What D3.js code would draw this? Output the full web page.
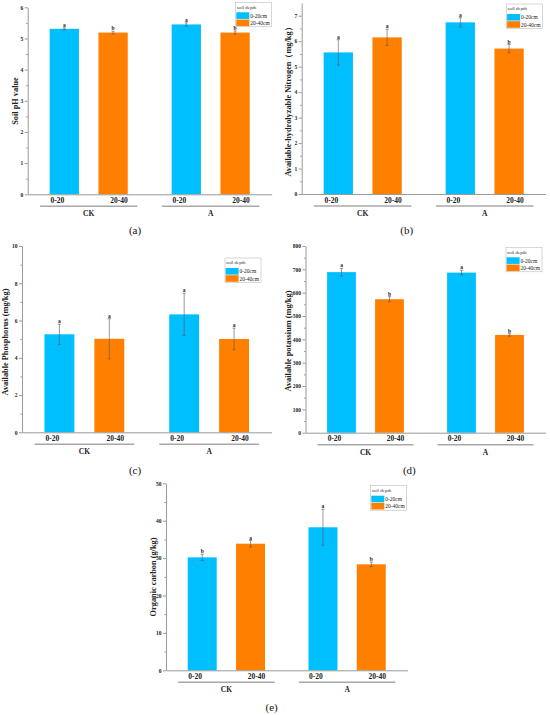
<!DOCTYPE html>
<html><head><meta charset="utf-8">
<script src="https://cdn.jsdelivr.net/npm/d3@7"></script>
<style>
html,body{margin:0;padding:0;background:#fff;}
svg{display:block;}
svg text{font-family:"Times New Roman","Liberation Serif",Tinos,serif;}
</style></head>
<body><svg id="c" width="550" height="715"></svg>
<script>
// ---------- data ----------
const groups = ["CK", "A"];
const depths = ["0-20", "20-40"];
const legendTitle = "soil depth";
const legendLabels = ["0-20cm", "20-40cm"];

// order of bars: CK 0-20, CK 20-40, A 0-20, A 20-40
const phMean = [5.31, 5.19, 5.45, 5.19];
const phErr  = [0.03, 0.04, 0.05, 0.05];
const phSig  = ["a", "b", "a", "b"];

const nMean = [5.56, 6.15, 6.74, 5.71];
const nErr  = [0.50, 0.32, 0.18, 0.16];
const nSig  = ["a", "a", "a", "b"];

const pMean = [5.26, 5.02, 6.33, 5.01];
const pErr  = [0.54, 1.08, 1.13, 0.58];
const pSig  = ["a", "a", "a", "a"];

const kMean = [688, 572, 686, 419];
const kErr  = [16, 11, 10, 5];
const kSig  = ["a", "b", "a", "b"];

const cMean = [30.2, 33.85, 38.24, 28.34];
const cErr  = [0.85, 0.85, 4.8, 0.6];
const cSig  = ["b", "a", "a", "b"];

const phTicks = [0, 1, 2, 3, 4, 5, 6];
const nTicks  = [0, 1, 2, 3, 4, 5, 6, 7];
const pTicks  = [0, 2, 4, 6, 8, 10];
const kTicks  = [0, 100, 200, 300, 400, 500, 600, 700, 800];
const cTicks  = [0, 10, 20, 30, 40, 50];

const colors = ["#00BFFF", "#FF8000"];
const FONT = '"Times New Roman","Liberation Serif",Tinos,serif';

// ---------- panel layout ----------
const panels = [
  {mean: phMean, err: phErr, sig: phSig, ticks: phTicks, max: 6, title: "Soil pH value", cap: "(a)",
   ax: 27.7, unit: 48.8, y0: 194.3, yTop: 7.3, tx: 15, ty: 101, leg: [235.7, 2.3], capXY: [135, 234]},
  {mean: nMean, err: nErr, sig: nSig, ticks: nTicks, max: 7.5, title: "Available-hydrolyzable Nitrogen（mg/kg）", cap: "(b)",
   ax: 301.7, unit: 48.8, y0: 194, yTop: 3.0, tx: 288.5, ty: 100, leg: [506.5, 4], capXY: [406.7, 234]},
  {mean: pMean, err: pErr, sig: pSig, ticks: pTicks, max: 10, title: "Available Phosphorus (mg/kg)", cap: "(c)",
   ax: 22, unit: 49.9, y0: 432.3, yTop: 246, tx: 5.5, ty: 342, leg: [225, 258], capXY: [135, 474]},
  {mean: kMean, err: kErr, sig: kSig, ticks: kTicks, max: 800, title: "Available potassium (mg/kg)", cap: "(d)",
   ax: 305.5, unit: 48, y0: 432.7, yTop: 246, tx: 288.5, ty: 341, leg: [506, 247.3], capXY: [409.3, 474]},
  {mean: cMean, err: cErr, sig: cSig, ticks: cTicks, max: 50, title: "Organic carbon (g/kg)", cap: "(e)",
   ax: 166, unit: 48.3, y0: 670.3, yTop: 483.3, tx: 153.3, ty: 577, leg: [370.7, 485.7], capXY: [271.7, 711]}
];

const svg = d3.select("#c");
svg.append("rect").attr("width", 550).attr("height", 715).attr("fill", "#fff");

panels.forEach(p => {
  const g = svg.append("g");
  const x = d3.scaleLinear().domain([-0.75, 4.25]).range([p.ax, p.ax + 5 * p.unit]);
  const y = d3.scaleLinear().domain([0, p.max]).range([p.y0, p.yTop]);
  const bw = 0.6 * p.unit;

  const data = [];
  groups.forEach((grp, gi) => depths.forEach((d, di) => {
    const i = gi * 2 + di;
    data.push({grp, d, gi, di, pos: gi * 2.5 + di, v: p.mean[i], e: p.err[i], s: p.sig[i]});
  }));

  // bars
  g.selectAll("rect.bar").data(data).join("rect")
    .attr("x", d => x(d.pos) - bw / 2)
    .attr("width", bw)
    .attr("y", d => y(d.v))
    .attr("height", d => y(0) - y(d.v))
    .attr("fill", d => colors[d.di]);

  // error bars
  const eg = g.selectAll("g.err").data(data).join("g");
  eg.append("line")
    .attr("x1", d => x(d.pos)).attr("x2", d => x(d.pos))
    .attr("y1", d => y(d.v - d.e)).attr("y2", d => y(d.v + d.e))
    .attr("stroke", "#555").attr("stroke-width", 0.6);
  [-1, 1].forEach(s => {
    eg.append("line")
      .attr("x1", d => x(d.pos) - 1.6).attr("x2", d => x(d.pos) + 1.6)
      .attr("y1", d => y(d.v + s * d.e)).attr("y2", d => y(d.v + s * d.e))
      .attr("stroke", "#555").attr("stroke-width", 0.6);
  });
  eg.append("text")
    .attr("x", d => x(d.pos)).attr("y", d => y(d.v + d.e) - 1)
    .attr("text-anchor", "middle").attr("font-size", 5.5).attr("font-weight", "bold")
    .attr("fill", "#222").text(d => d.s);

  // y axis
  const ya = d3.axisLeft(y).tickValues(p.ticks).tickSize(3).tickSizeOuter(0).tickPadding(1.5)
    .tickFormat(d3.format("d"));
  const yg = g.append("g").attr("transform", `translate(${p.ax},0)`).call(ya)
    .attr("font-family", FONT);
  yg.select(".domain").attr("stroke", "#808080").attr("stroke-width", 0.8);
  yg.selectAll(".tick line").attr("stroke", "#808080").attr("stroke-width", 0.8);
  yg.selectAll(".tick text").attr("font-size", 5.5).attr("font-weight", "bold").attr("fill", "#222");
  const step = p.ticks[1] - p.ticks[0];
  const minor = p.ticks.slice(0, -1).map(t => t + step / 2);
  const ym = d3.axisLeft(y).tickValues(minor).tickSize(1.6).tickFormat("");
  const ymg = g.append("g").attr("transform", `translate(${p.ax},0)`).call(ym);
  ymg.select(".domain").remove();
  ymg.selectAll(".tick line").attr("stroke", "#808080").attr("stroke-width", 0.8);

  // x axis line
  const xa = d3.axisBottom(x).tickValues([]).tickSizeOuter(0);
  const xg = g.append("g").attr("transform", `translate(0,${p.y0})`).call(xa);
  xg.select(".domain").attr("stroke", "#808080").attr("stroke-width", 0.8);

  // depth labels
  g.selectAll("text.dl").data(data).join("text")
    .attr("x", d => x(d.pos) + (d.di === 0 ? -7 : 6))
    .attr("y", p.y0 + 8.7)
    .attr("text-anchor", "middle").attr("font-size", 7.5).attr("font-weight", "bold").attr("fill", "#222")
    .text(d => d.d);

  // group lines and labels
  groups.forEach((grp, gi) => {
    const a = gi * 2.5, b = gi * 2.5 + 1;
    g.append("line")
      .attr("x1", x(a - 0.5)).attr("x2", x(b + 0.5))
      .attr("y1", p.y0 + 12).attr("y2", p.y0 + 12)
      .attr("stroke", "#a8a8a8").attr("stroke-width", 1.6);
    g.append("text")
      .attr("x", (x(a) + x(b)) / 2).attr("y", p.y0 + 22)
      .attr("text-anchor", "middle").attr("font-size", 7.5).attr("font-weight", "bold").attr("fill", "#222")
      .text(grp);
  });

  // y title
  g.append("text")
    .attr("transform", `translate(${p.tx},${p.ty}) rotate(-90)`)
    .attr("dy", "0.35em")
    .attr("text-anchor", "middle").attr("font-size", 8.3).attr("font-weight", "bold").attr("fill", "#222")
    .text(p.title);

  // legend
  const [lx, ly] = p.leg;
  const lg = g.append("g").attr("transform", `translate(${lx},${ly})`);
  lg.append("rect").attr("width", 36).attr("height", 24.5)
    .attr("fill", "#fff").attr("stroke", "#b0b0b0").attr("stroke-width", 0.5);
  lg.append("text").attr("x", 1).attr("y", 6.3).attr("font-size", 5).attr("fill", "#333").text(legendTitle);
  legendLabels.forEach((lab, i) => {
    lg.append("rect").attr("x", 0.6).attr("y", 10 + i * 7.2).attr("width", 13).attr("height", 6.6)
      .attr("fill", colors[i]);
    lg.append("text").attr("x", 14.5).attr("y", 15.3 + i * 7.2).attr("font-size", 5.5).attr("fill", "#222").text(lab);
  });

  // caption
  g.append("text").attr("x", p.capXY[0]).attr("y", p.capXY[1])
    .attr("text-anchor", "middle").attr("font-size", 11).attr("fill", "#111").text(p.cap);
});
</script>
</body></html>
